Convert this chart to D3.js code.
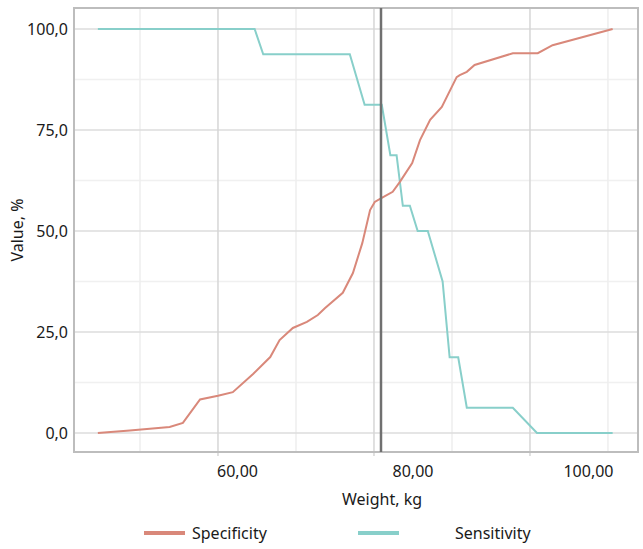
<!DOCTYPE html>
<html>
<head>
<meta charset="utf-8">
<script src="https://cdn.jsdelivr.net/npm/d3@7"></script>
<style>
  body { margin: 0; background: #fff; }
  svg text { font-family: "Noto Sans", "Open Sans", sans-serif; fill: #1a1a1a; }
</style>
</head>
<body>
<div id="chart"></div>
<script>
// Sensitivity curve (weight kg, value %)
const sensWeight = [44.6, 64.7, 65.8, 76.9, 78.8, 81.0, 82.1, 82.9, 83.7, 84.6, 85.6, 86.9, 88.8, 89.7, 90.8, 91.9, 97.8, 100.9, 110.6];
const sensValue  = [100, 100, 93.75, 93.75, 81.25, 81.25, 68.75, 68.75, 56.25, 56.25, 50, 50, 37.5, 18.75, 18.75, 6.25, 6.25, 0, 0];

// Specificity curve (weight kg, value %)
const specWeight = [44.6, 48.7, 53.8, 55.5, 57.7, 60.0, 61.9, 64.5, 66.7, 67.9, 69.6, 71.4, 72.8, 73.7, 76.0, 77.3, 78.5, 79.5, 80.1, 81.0, 82.4, 83.3, 84.9, 85.9, 87.2, 88.7, 90.6, 91.0, 91.9, 92.9, 97.8, 101.0, 102.9, 110.6];
const specValue  = [0, 0.6, 1.5, 2.5, 8.3, 9.2, 10.1, 14.6, 18.8, 23, 26, 27.5, 29.2, 30.9, 34.7, 39.6, 47, 55.2, 57.2, 58.2, 59.7, 62.1, 66.8, 72.5, 77.5, 80.7, 88.1, 88.6, 89.4, 91.1, 94, 94, 96, 100];

const cutoffWeight = 80.9;

const yTicks = [0, 25, 50, 75, 100];
const yMinor = [12.5, 37.5, 62.5, 87.5];
const xTicks = [60, 80, 100];
const xGridMajor = [60, 80, 100];
const xGridMinor = [50, 70, 90, 110];

const seriesNames = ["Specificity", "Sensitivity"];
const seriesColors = ["#d9887a", "#88cfca"];

const w = 643, h = 549;
const plotLeft = 74, plotRight = 638, plotTop = 8, plotBottom = 452;

const x = d3.scaleLinear().domain([41.54, 113.85]).range([plotLeft, plotRight]);
const xLabel = d3.scaleLinear().domain([60, 100]).range([237, 588]); // tick labels sit offset from grid
const y = d3.scaleLinear().domain([-4.7, 105.2]).range([plotBottom, plotTop]);

const svg = d3.select("#chart").append("svg")
    .attr("width", w)
    .attr("height", h);

// Grid
svg.append("g").selectAll("line")
    .data(yMinor).enter().append("line")
    .attr("x1", plotLeft).attr("x2", plotRight)
    .attr("y1", d => y(d)).attr("y2", d => y(d))
    .attr("stroke", "#f0f0f0").attr("stroke-width", 1.5);

svg.append("g").selectAll("line")
    .data(xGridMinor).enter().append("line")
    .attr("x1", d => x(d)).attr("x2", d => x(d))
    .attr("y1", plotTop).attr("y2", plotBottom)
    .attr("stroke", "#eeeeee").attr("stroke-width", 1.5);

svg.append("g").selectAll("line")
    .data(yTicks).enter().append("line")
    .attr("x1", plotLeft).attr("x2", plotRight)
    .attr("y1", d => y(d)).attr("y2", d => y(d))
    .attr("stroke", "#dcdcdc").attr("stroke-width", 1.5);

svg.append("g").selectAll("line")
    .data(xGridMajor).enter().append("line")
    .attr("x1", d => x(d)).attr("x2", d => x(d))
    .attr("y1", plotTop).attr("y2", plotBottom + 4)
    .attr("stroke", "#d6d6d6").attr("stroke-width", 1.5);

// Frame
svg.append("rect")
    .attr("x", plotLeft).attr("y", plotTop)
    .attr("width", plotRight - plotLeft).attr("height", plotBottom - plotTop)
    .attr("fill", "none")
    .attr("stroke", "#bdbdbd")
    .attr("stroke-width", 2);

// Lines
const line = d3.line().x(d => x(d[0])).y(d => y(d[1]));
const specData = specWeight.map((v, i) => [v, specValue[i]]);
const sensData = sensWeight.map((v, i) => [v, sensValue[i]]);

svg.append("path")
    .datum(sensData)
    .attr("d", line)
    .attr("fill", "none")
    .attr("stroke", seriesColors[1])
    .attr("stroke-width", 2);

svg.append("path")
    .datum(specData)
    .attr("d", line)
    .attr("fill", "none")
    .attr("stroke", seriesColors[0])
    .attr("stroke-width", 2);

// Cut-off line
svg.append("line")
    .attr("x1", x(cutoffWeight)).attr("x2", x(cutoffWeight))
    .attr("y1", plotTop).attr("y2", plotBottom)
    .attr("stroke", "#707070")
    .attr("stroke-width", 2.5);

// Axes
const fmtY = d => d3.format(".1f")(d).replace(".", ",");
const fmtX = d => d3.format(".2f")(d).replace(".", ",");

const yAxis = svg.append("g")
    .attr("transform", `translate(${plotLeft},0)`)
    .call(d3.axisLeft(y).tickValues(yTicks).tickFormat(fmtY).tickSize(0).tickPadding(6));
yAxis.select(".domain").remove();
yAxis.selectAll("text").attr("font-size", "16px").style("font-family", "'Noto Sans', sans-serif");

const xAxis = svg.append("g")
    .attr("transform", `translate(0,${plotBottom})`)
    .call(d3.axisBottom(xLabel).tickValues(xTicks).tickFormat(fmtX).tickSize(0).tickPadding(14));
xAxis.select(".domain").remove();
xAxis.selectAll("text").attr("font-size", "16px").style("font-family", "'Noto Sans', sans-serif");

// Axis titles
svg.append("text")
    .attr("x", 382).attr("y", 505)
    .attr("text-anchor", "middle")
    .attr("font-size", "16px")
    .text("Weight, kg");

svg.append("text")
    .attr("transform", `translate(23,${(plotTop + plotBottom) / 2}) rotate(-90)`)
    .attr("text-anchor", "middle")
    .attr("font-size", "16px")
    .text("Value, %");

// Legend
const legendX = [144, 358];
const legendText = [192, 455];
seriesNames.forEach((name, i) => {
    svg.append("line")
        .attr("x1", legendX[i]).attr("x2", legendX[i] + 41)
        .attr("y1", 533).attr("y2", 533)
        .attr("stroke", seriesColors[i])
        .attr("stroke-width", 4);
    svg.append("text")
        .attr("x", legendText[i]).attr("y", 539)
        .attr("font-size", "16px")
        .text(name);
});
</script>
</body>
</html>
